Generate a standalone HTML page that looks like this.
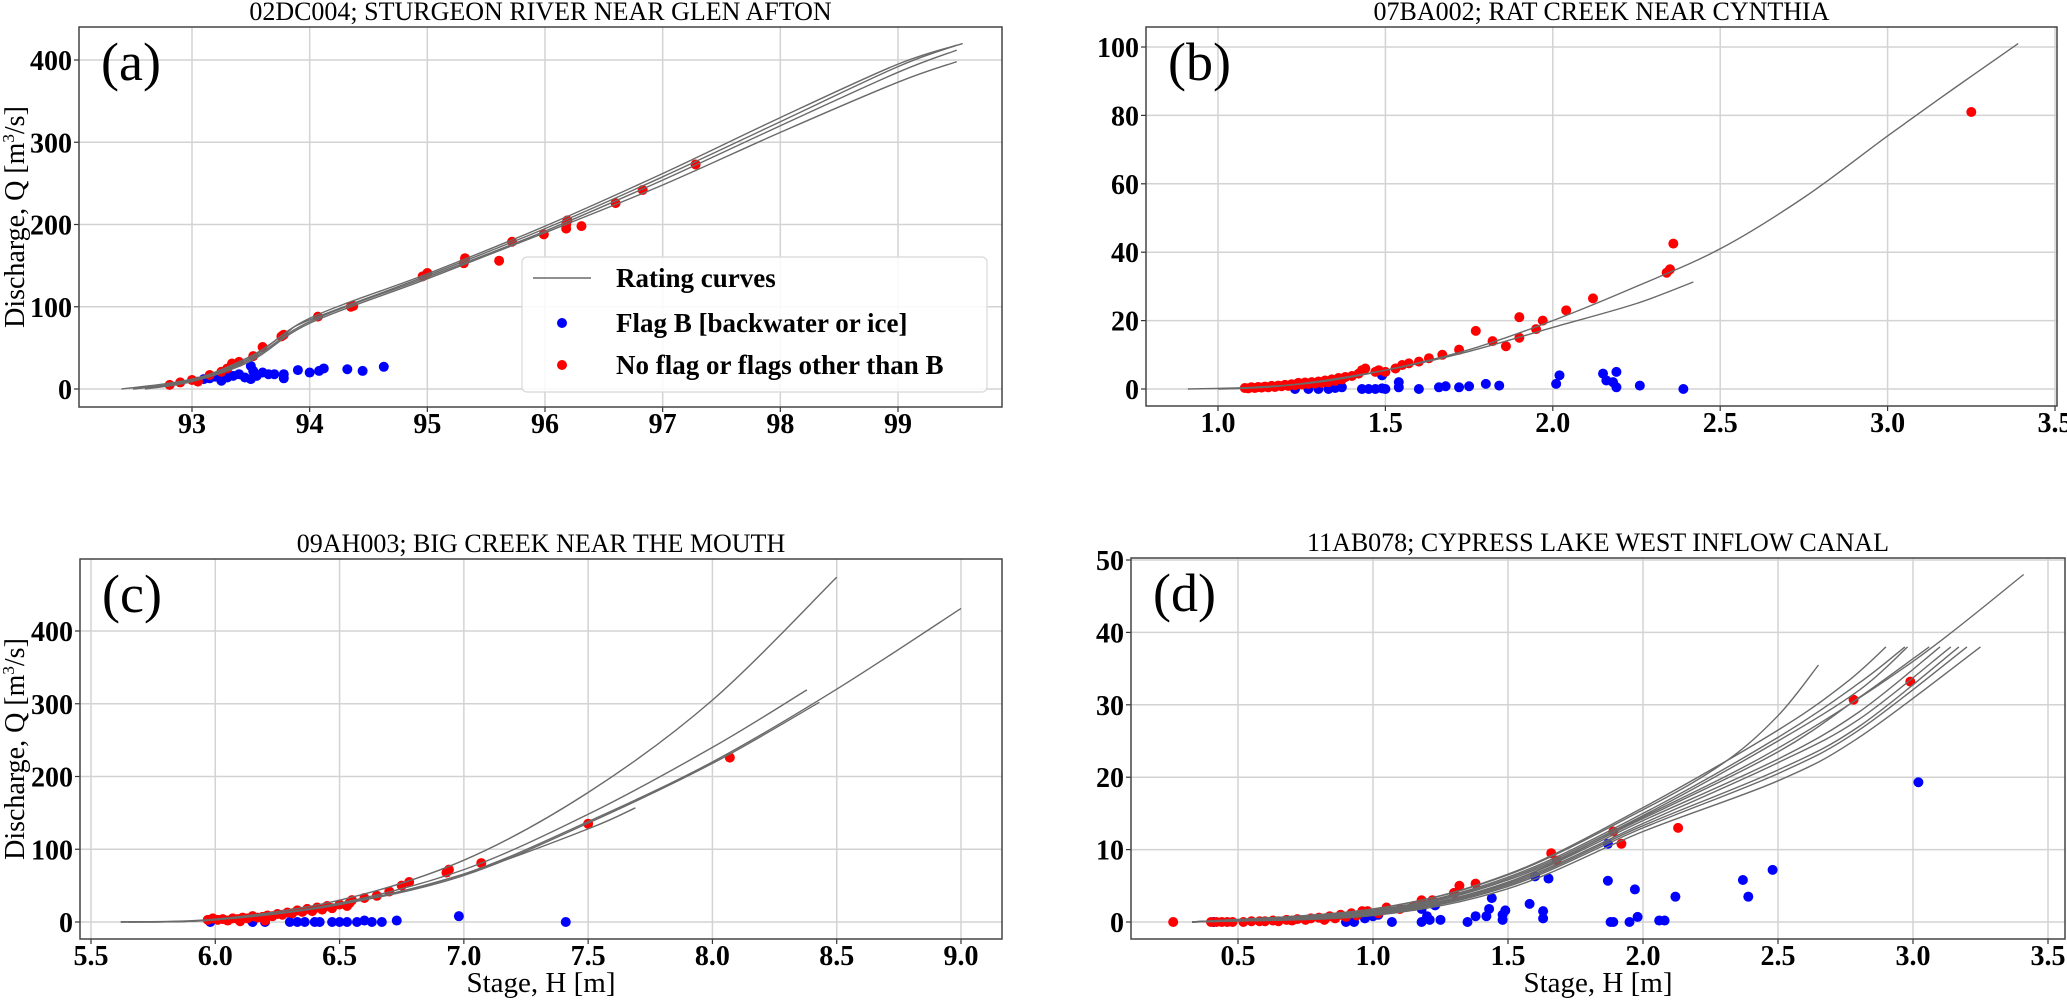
<!DOCTYPE html>
<html><head><meta charset="utf-8"><style>
html,body{margin:0;padding:0;background:#fff;}
svg{display:block;font-family:"Liberation Serif",serif;}
</style></head><body>
<svg id="fig" xmlns="http://www.w3.org/2000/svg" width="2067" height="1001" viewBox="0 0 2067 1001"></svg>
<script>
// ---------- DATA ----------
// Panel (a)
const aCurves = [
 [[92.4,0],[93,12],[93.5,38],[94,86],[95,140],[96,198],[97,262],[98,330],[99,395],[99.55,420]],
 [[92.5,0],[93,10],[93.5,36],[94,82],[95,136],[96,192],[97,254],[98,320],[99,385],[99.5,412]],
 [[92.6,0],[93,9],[93.5,34],[94,80],[95,134],[96,190],[97,248],[98,312],[99,373],[99.5,398]],
 [[92.5,0],[93,11],[93.5,40],[93.8,68],[94,84],[95,138],[96,195],[97,258],[98,325],[99,392],[99.5,418]]
];
const aRed = [[92.81,5],[92.9,8],[93.0,11],[93.05,9],[93.15,17],[93.25,21],[93.3,25],[93.34,31],[93.4,33],[93.52,40],[93.6,51],[93.76,64],[93.78,66],[94.07,88],[94.35,100],[94.37,101],[94.96,137],[95.0,141],[95.31,153],[95.32,159],[95.61,156],[95.72,179],[95.99,188],[96.18,195],[96.18,200],[96.19,205],[96.31,198],[96.6,226],[96.83,242],[97.28,273]];
const aBlue = [[93.1,12],[93.15,13],[93.2,15],[93.25,10],[93.3,14],[93.35,16],[93.4,18],[93.45,14],[93.5,28],[93.5,12],[93.52,22],[93.55,16],[93.6,20],[93.65,18],[93.7,18],[93.78,13],[93.78,18],[93.9,23],[94.0,20],[94.08,22],[94.12,25],[94.32,24],[94.45,22],[94.63,27]];
// Panel (b)
const bCurves = [
 [[0.91,0],[1.1,0.5],[1.3,2],[1.5,5.5],[1.75,11.5],[2.0,20],[2.25,30],[2.5,41],[2.75,56],[3.0,74],[3.2,88],[3.39,101]],
 [[1.0,0],[1.2,1],[1.5,5.5],[1.75,11],[2.0,18],[2.25,25],[2.42,31.3]]
];
const bRed = [[1.08,0.3],[1.09,0.2],[1.1,0.5],[1.11,0.3],[1.12,0.6],[1.13,0.4],[1.14,0.7],[1.15,0.5],[1.16,0.9],[1.17,0.6],[1.18,1.0],[1.19,0.8],[1.2,1.2],[1.21,0.9],[1.22,1.4],[1.23,1.1],[1.24,1.8],[1.25,1.3],[1.26,1.9],[1.27,1.5],[1.28,2.0],[1.29,1.6],[1.3,2.2],[1.31,1.8],[1.32,2.5],[1.33,2.0],[1.34,2.8],[1.35,2.4],[1.36,3.2],[1.37,2.8],[1.38,3.5],[1.4,3.8],[1.42,4.5],[1.43,5.5],[1.44,6],[1.47,5],[1.48,5.5],[1.5,5],[1.53,6],[1.55,7],[1.57,7.5],[1.6,8],[1.63,9],[1.67,10],[1.72,11.5],[1.77,17],[1.82,14],[1.86,12.5],[1.9,21],[1.9,15],[1.95,17.5],[1.97,20],[2.04,23],[2.12,26.5],[2.34,34],[2.35,35],[2.36,42.5],[3.25,81]];
const bBlue = [[1.23,0],[1.27,0],[1.3,0],[1.33,0],[1.35,0.3],[1.37,0.5],[1.43,0],[1.45,0],[1.47,0],[1.49,0.2],[1.5,0],[1.49,4],[1.54,2],[1.54,0.5],[1.6,0],[1.66,0.5],[1.68,0.8],[1.72,0.5],[1.75,0.8],[1.8,1.5],[1.84,1],[2.01,1.5],[2.02,4],[2.15,4.5],[2.16,2.5],[2.18,2],[2.19,5],[2.19,0.5],[2.26,1],[2.39,0]];
// Panel (c)
const cCurves = [
 [[5.62,0],[6.0,4],[6.5,30],[7.0,85],[7.5,178],[8.0,305],[8.5,474]],
 [[5.62,0],[6.0,3],[6.5,26],[7.0,72],[7.5,148],[8.0,240],[8.38,319]],
 [[5.62,0],[6.0,3],[6.5,25],[7.0,66],[7.5,138],[8.0,220],[8.5,320],[9.0,431]],
 [[5.65,0],[6.0,3],[6.5,24],[7.0,64],[7.5,136],[8.0,218],[8.43,302]],
 [[5.65,0],[6.0,3],[6.5,24],[7.0,66],[7.5,128],[7.69,157]]
];
const cRed = [[5.97,3],[5.99,5],[6.01,3],[6.03,4],[6.05,2],[6.07,5],[6.09,4],[6.1,1],[6.11,6],[6.13,5],[6.15,8],[6.17,6],[6.19,7],[6.2,2],[6.21,9],[6.23,8],[6.25,11],[6.27,10],[6.29,13],[6.31,12],[6.33,16],[6.35,14],[6.37,18],[6.39,15],[6.41,20],[6.43,17],[6.45,22],[6.47,19],[6.5,24],[6.53,22],[6.54,26],[6.55,30],[6.6,33],[6.65,36],[6.7,42],[6.75,50],[6.78,55],[6.93,68],[6.94,72],[7.07,81],[7.5,135],[8.07,226]];
const cBlue = [[5.98,0],[6.15,0],[6.2,0],[6.3,0],[6.33,0],[6.36,0],[6.4,0],[6.42,0],[6.47,0],[6.5,0],[6.53,0],[6.57,0],[6.6,2],[6.63,0],[6.67,0],[6.73,2],[6.98,8],[7.41,0]];
// Panel (d)
const dCurves = [
 [[0.33,0],[1.0,1.8],[1.5,6.5],[2.0,15.5],[2.3,22],[2.5,28.5],[2.65,35.5]],
 [[0.33,0],[1.0,1.8],[1.5,6.6],[2.0,15.8],[2.5,26.5],[2.75,33],[2.9,38]],
 [[0.33,0],[1.0,1.6],[1.5,6.2],[2.0,15],[2.5,25.5],[2.8,33],[2.97,38]],
 [[0.33,0],[1.0,1.5],[1.5,6],[2.0,14.7],[2.5,25],[2.8,32],[2.98,38]],
 [[0.33,0],[1.0,1.4],[1.5,5.8],[2.0,14.3],[2.5,23.5],[2.8,31],[3.06,38]],
 [[0.33,0],[1.0,1.3],[1.5,5.5],[2.0,14],[2.5,22.5],[2.8,29],[3.1,38]],
 [[0.33,0],[1.0,1.2],[1.5,5.3],[2.0,13.6],[2.5,22],[2.8,28],[3.14,38]],
 [[0.33,0],[1.0,1.1],[1.5,5.1],[2.0,13.3],[2.5,21],[2.8,27],[3.17,38]],
 [[0.33,0],[1.0,1.0],[1.5,4.9],[2.0,13],[2.5,20.5],[2.8,26.5],[3.2,38]],
 [[0.33,0],[1.0,0.9],[1.5,4.6],[2.0,12.5],[2.5,19.5],[2.8,25.5],[3.25,38]],
 [[0.33,0],[1.0,1.2],[1.5,5.5],[2.0,14.5],[2.5,24],[3.0,36],[3.41,48]]
];
const dRed = [[0.26,0],[0.4,0],[0.42,0],[0.44,0],[0.46,0],[0.48,0],[0.52,0],[0.55,0.1],[0.58,0.1],[0.6,0.1],[0.63,0.2],[0.65,0.1],[0.68,0.3],[0.7,0.2],[0.72,0.4],[0.75,0.3],[0.77,0.5],[0.8,0.6],[0.82,0.3],[0.84,0.8],[0.86,0.5],[0.88,1],[0.9,0.7],[0.92,1.2],[0.94,0.9],[0.96,1.5],[0.98,1.5],[1.02,1.2],[1.05,2],[1.1,1.8],[1.15,2.2],[1.18,3],[1.22,3],[1.3,4],[1.32,5],[1.38,5.3],[1.66,9.5],[1.68,8.5],[1.89,12.5],[1.92,10.8],[2.13,13],[2.78,30.7],[2.99,33.2]];
const dBlue = [[0.41,0],[0.9,0],[0.93,0],[0.97,0.5],[1.0,0.8],[1.02,1],[1.07,0],[1.18,0],[1.18,1.8],[1.2,0.8],[1.21,0.3],[1.23,2.3],[1.25,0.3],[1.3,4],[1.35,0],[1.38,0.8],[1.42,0.8],[1.43,1.8],[1.44,3.3],[1.48,0.3],[1.48,1],[1.49,1.6],[1.58,2.5],[1.6,6.3],[1.63,0.5],[1.63,1.5],[1.65,6],[1.87,5.7],[1.87,10.8],[1.88,0],[1.89,0],[1.95,0],[1.97,4.5],[1.98,0.7],[2.06,0.2],[2.08,0.2],[2.12,3.5],[2.37,5.8],[2.39,3.5],[2.48,7.2],[3.02,19.3]];
// Tick labels
const aXTicks = ["93","94","95","96","97","98","99"];
const aYTicks = ["0","100","200","300","400"];
const bXTicks = ["1.0","1.5","2.0","2.5","3.0","3.5"];
const bYTicks = ["0","20","40","60","80","100"];
const cXTicks = ["5.5","6.0","6.5","7.0","7.5","8.0","8.5","9.0"];
const cYTicks = ["0","100","200","300","400"];
const dXTicks = ["0.5","1.0","1.5","2.0","2.5","3.0","3.5"];
const dYTicks = ["0","10","20","30","40","50"];

// ---------- RENDER ----------
const NS="http://www.w3.org/2000/svg";
const svg=document.getElementById('fig');
function mk(tag,attrs,parent){const e=document.createElementNS(NS,tag);for(const k in attrs)e.setAttribute(k,attrs[k]);(parent||svg).appendChild(e);return e;}

function smoothPath(pts){
  let d="M"+pts[0][0].toFixed(1)+","+pts[0][1].toFixed(1);
  for(let i=0;i<pts.length-1;i++){
    const p0=pts[Math.max(0,i-1)],p1=pts[i],p2=pts[i+1],p3=pts[Math.min(pts.length-1,i+2)];
    const c1x=p1[0]+(p2[0]-p0[0])/6,c1y=p1[1]+(p2[1]-p0[1])/6;
    const c2x=p2[0]-(p3[0]-p1[0])/6,c2y=p2[1]-(p3[1]-p1[1])/6;
    d+=" C"+c1x.toFixed(1)+","+c1y.toFixed(1)+" "+c2x.toFixed(1)+","+c2y.toFixed(1)+" "+p2[0].toFixed(1)+","+p2[1].toFixed(1);
  }
  return d;
}

function panel(cfg){
  const g=mk('g',{});
  
  
  const xs=v=>cfg.x0p+(v-cfg.x0v)*(cfg.x1p-cfg.x0p)/(cfg.x1v-cfg.x0v);
  const ys=v=>cfg.y0p+(v-cfg.y0v)*(cfg.y1p-cfg.y0p)/(cfg.y1v-cfg.y0v);
  const clipId='clip-'+cfg.id;
  const cp=mk('clipPath',{id:clipId},g);
  mk('rect',{x:cfg.l,y:cfg.t,width:cfg.r-cfg.l,height:cfg.b-cfg.t},cp);
  cfg.xt.forEach(lab=>{
    const px=xs(parseFloat(lab));
    const gl=mk('line',{x1:px,x2:px,y1:cfg.t,y2:cfg.b,stroke:'#d3d3d3','stroke-width':1.5},g);
    
    
    const tk=mk('line',{x1:px,x2:px,y1:cfg.b,y2:cfg.b+5,stroke:'#333','stroke-width':1.2},g);
    
    
    const tl=mk('text',{x:px,y:cfg.b+26,'text-anchor':'middle','font-size':28,'font-weight':'bold',fill:'#000'},g);
    tl.textContent=lab;
    
    
  });
  cfg.yt.forEach(lab=>{
    const py=ys(parseFloat(lab));
    const gl=mk('line',{x1:cfg.l,x2:cfg.r,y1:py,y2:py,stroke:'#d3d3d3','stroke-width':1.5},g);
    
    
    const tk=mk('line',{x1:cfg.l-5,x2:cfg.l,y1:py,y2:py,stroke:'#333','stroke-width':1.2},g);
    
    
    const tl=mk('text',{x:cfg.l-7,y:py+10,'text-anchor':'end','font-size':28,'font-weight':'bold',fill:'#000'},g);
    tl.textContent=lab;
    
    
  });
  const plot=mk('g',{'clip-path':'url(#'+clipId+')'},g);
  
  
  cfg.blue.forEach(p=>{
    const c=mk('circle',{cx:xs(p[0]),cy:ys(p[1]),r:5,fill:'#0000ff'},plot);
    
    
  });
  cfg.red.forEach(p=>{
    const c=mk('circle',{cx:xs(p[0]),cy:ys(p[1]),r:5,fill:'#ff0000'},plot);
    
    
  });
  cfg.curves.forEach(cv=>{
    const pts=cv.map(p=>[xs(p[0]),ys(p[1])]);
    const pa=mk('path',{d:smoothPath(pts),fill:'none',stroke:'#6a6a6a','stroke-width':1.4},plot);
    
    
  });
  const fr=mk('rect',{x:cfg.l,y:cfg.t,width:cfg.r-cfg.l,height:cfg.b-cfg.t,fill:'none',stroke:'#444','stroke-width':1.5},g);
  
  
  const ti=mk('text',{x:(cfg.l+cfg.r)/2,y:cfg.t-7,'text-anchor':'middle','font-size':26,fill:'#000'},g);
  ti.textContent=cfg.title;
  
  
  const le=mk('text',{x:cfg.l+22,y:cfg.t+53,'font-size':54,fill:'#000'},g);
  le.textContent='('+cfg.id+')';
  
  
  if(cfg.ylab){
    const yl=mk('text',{x:0,y:0,'text-anchor':'middle','font-size':28,fill:'#000',transform:'translate(24,'+((cfg.t+cfg.b)/2)+') rotate(-90)'},g);
    yl.innerHTML='Discharge, Q [m<tspan font-size="17" dy="-10">3</tspan><tspan dy="10">/s]</tspan>';
    
    
  }
  if(cfg.xlab){
    const xl=mk('text',{x:(cfg.l+cfg.r)/2,y:992,'text-anchor':'middle','font-size':29,fill:'#000'},g);
    xl.textContent='Stage, H [m]';
    
    
  }
}

panel({id:'a',title:'02DC004; STURGEON RIVER NEAR GLEN AFTON',l:79,t:27,r:1002,b:407,x0v:93,x0p:192,x1v:99,x1p:898,y0v:0,y0p:389,y1v:400,y1p:60,xt:aXTicks,yt:aYTicks,curves:aCurves,red:aRed,blue:aBlue,ylab:true,xlab:false});
panel({id:'b',title:'07BA002; RAT CREEK NEAR CYNTHIA',l:1146,t:27,r:2057,b:406,x0v:1.0,x0p:1218,x1v:3.5,x1p:2055,y0v:0,y0p:389,y1v:100,y1p:47,xt:bXTicks,yt:bYTicks,curves:bCurves,red:bRed,blue:bBlue,ylab:false,xlab:false});
panel({id:'c',title:'09AH003; BIG CREEK NEAR THE MOUTH',l:80,t:559,r:1002,b:939,x0v:5.5,x0p:91,x1v:9.0,x1p:961,y0v:0,y0p:922,y1v:400,y1p:631,xt:cXTicks,yt:cYTicks,curves:cCurves,red:cRed,blue:cBlue,ylab:true,xlab:true});
panel({id:'d',title:'11AB078; CYPRESS LAKE WEST INFLOW CANAL',l:1131,t:558,r:2065,b:939,x0v:0.5,x0p:1238,x1v:3.5,x1p:2048,y0v:0,y0p:922,y1v:50,y1p:560,xt:dXTicks,yt:dYTicks,curves:dCurves,red:dRed,blue:dBlue,ylab:false,xlab:true});

const lg=mk('g',{});


const lb=mk('rect',{x:522,y:257,width:465,height:135,rx:5,fill:'#fff','fill-opacity':0.85,stroke:'#d8d8d8','stroke-width':1.2},lg);


const e1=mk('line',{x1:533,x2:591,y1:278,y2:278,stroke:'#6a6a6a','stroke-width':1.5},lg);


const e2=mk('circle',{cx:562,cy:323,r:5,fill:'#0000ff'},lg);


const e3=mk('circle',{cx:562,cy:365,r:5,fill:'#ff0000'},lg);


[['Rating curves',287,'legend-entry-rating-curves'],['Flag B [backwater or ice]',332,'legend-entry-flag-b'],['No flag or flags other than B',374,'legend-entry-no-flag']].forEach(r=>{
  const t=mk('text',{x:616,y:r[1],'font-size':27,'font-weight':'bold',fill:'#000'},lg);
  t.textContent=r[0];
  
  
});
</script>
</body></html>
